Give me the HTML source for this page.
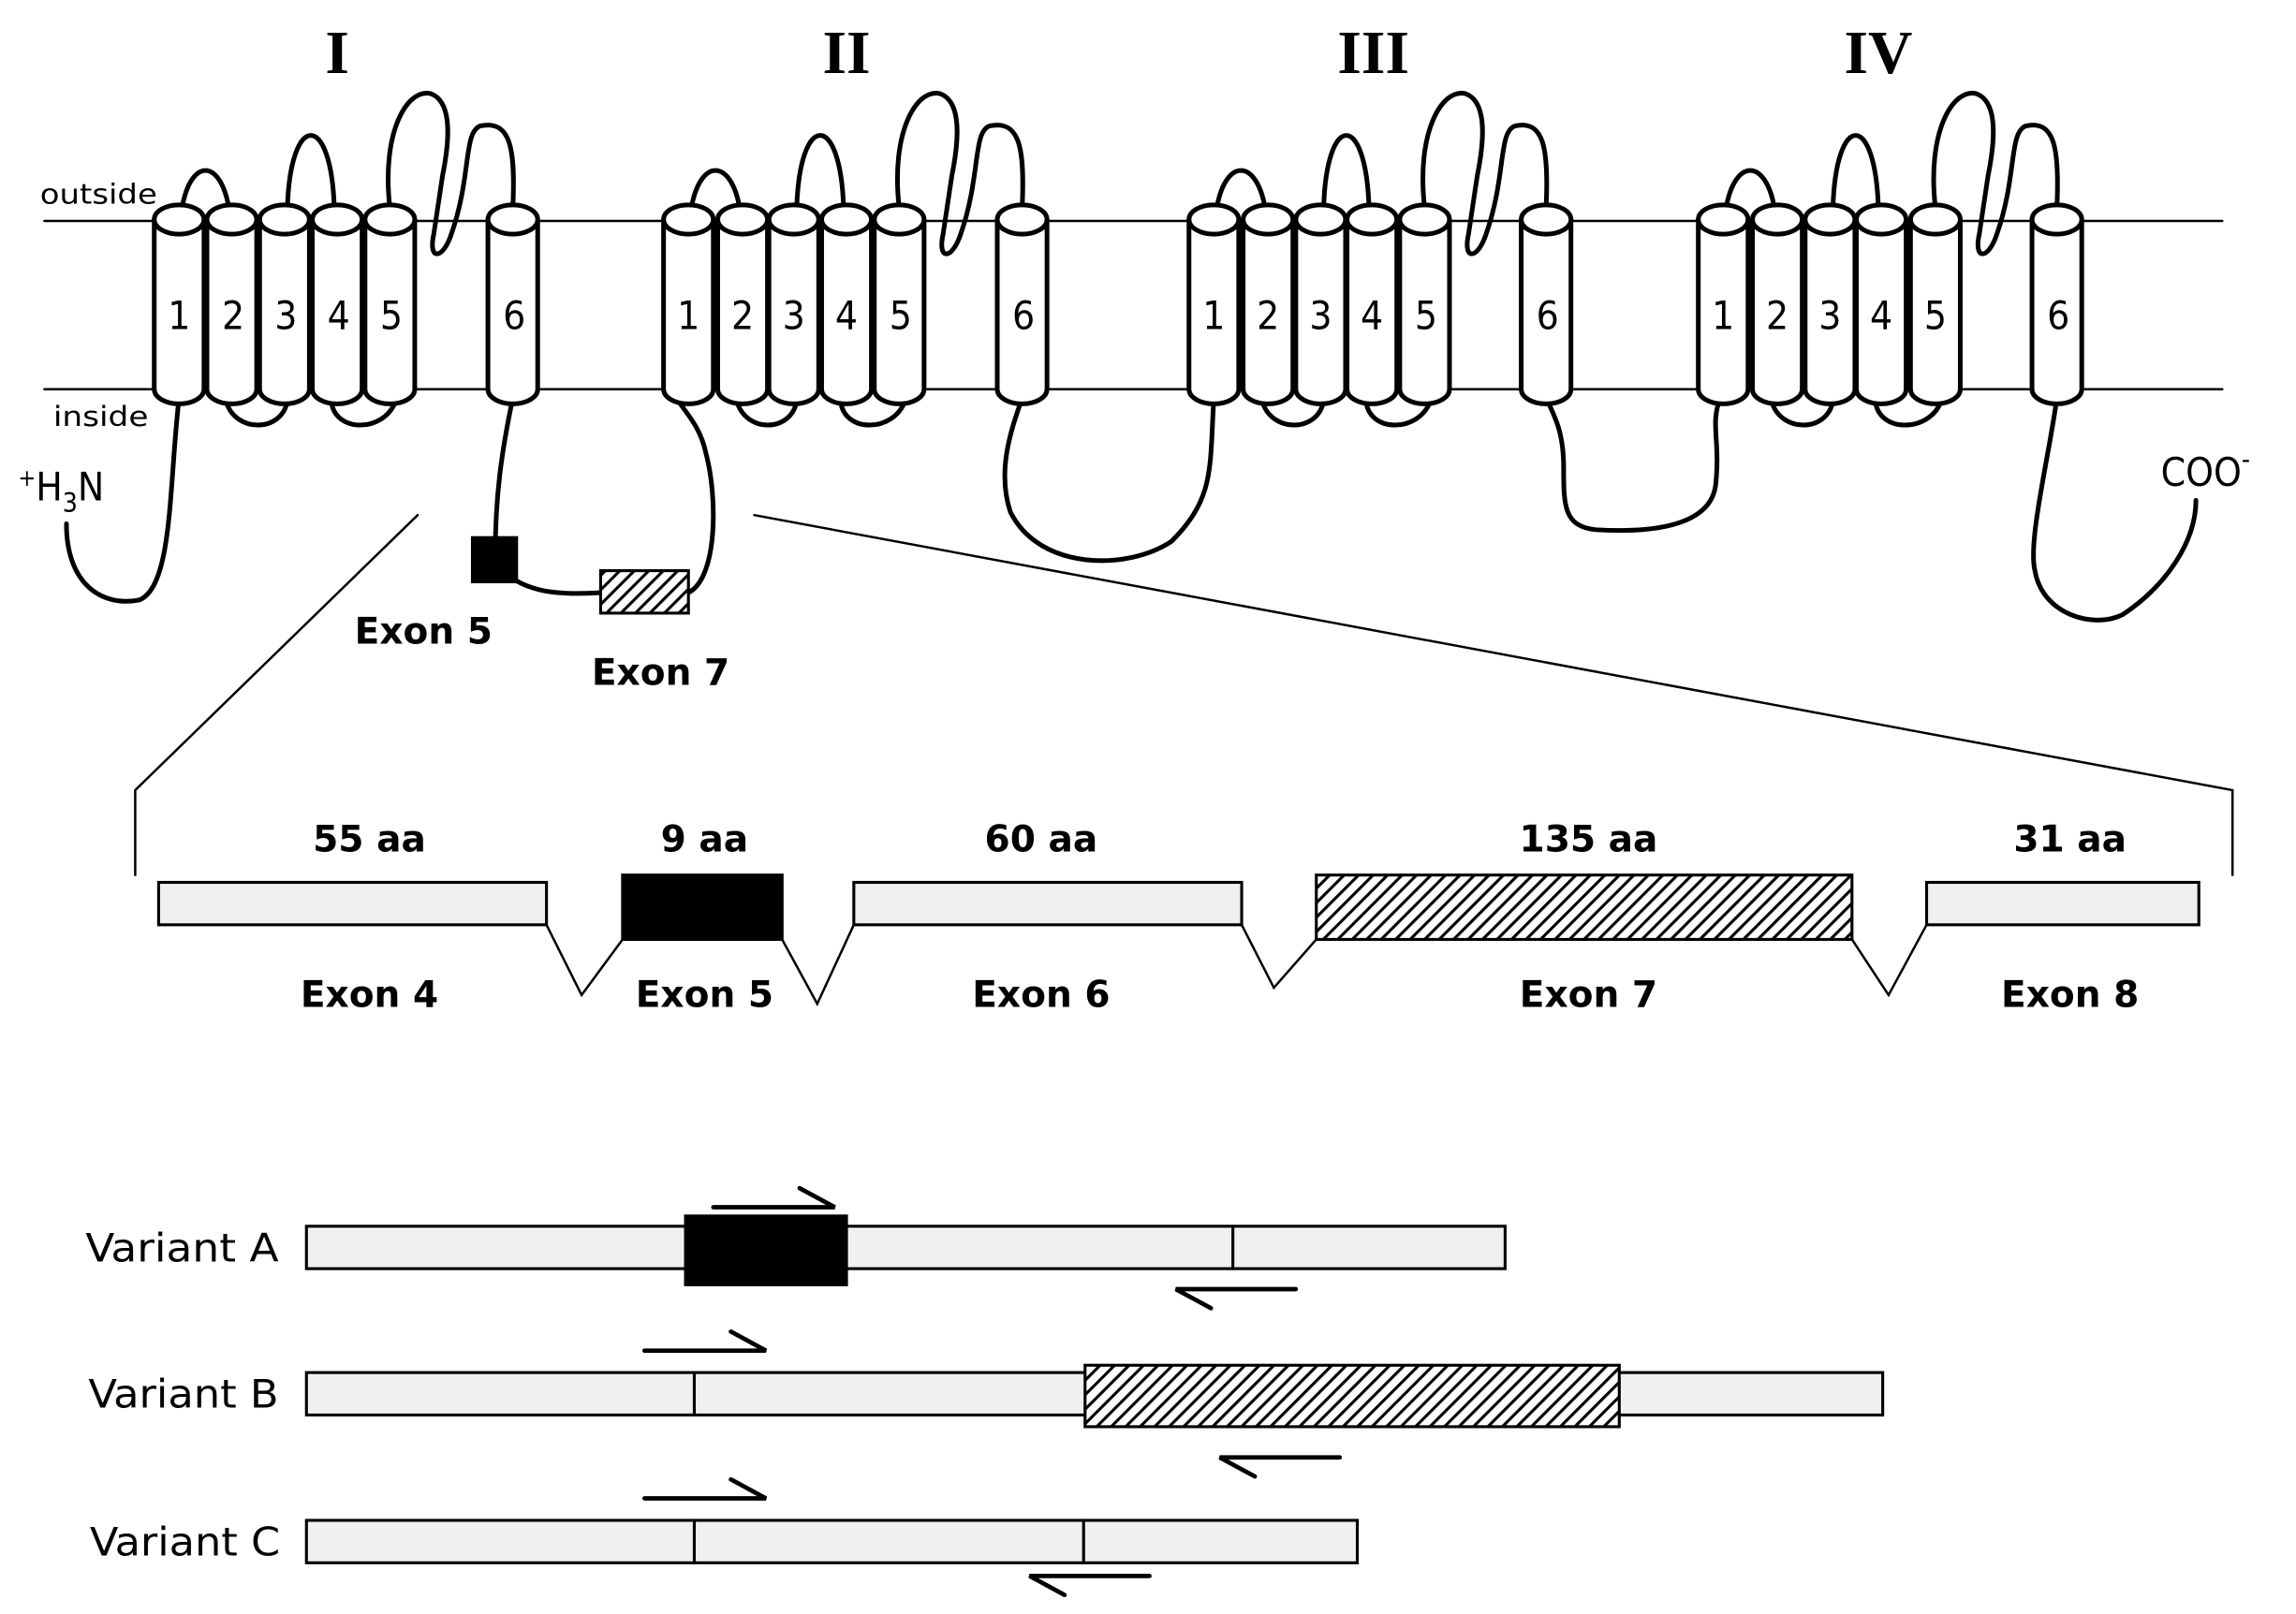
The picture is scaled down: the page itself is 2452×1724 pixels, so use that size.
<!DOCTYPE html>
<html><head><meta charset="utf-8"><style>html,body{margin:0;padding:0;background:#fff}svg{display:block}</style></head>
<body>
<svg id="s" width="2452" height="1724" viewBox="0 0 1568 1103" xmlns="http://www.w3.org/2000/svg">
<defs>
<pattern id="h" patternUnits="userSpaceOnUse" width="7" height="7" patternTransform="rotate(45)">
<rect width="7" height="7" fill="#fff"/><rect x="0" y="0" width="2" height="7" fill="#000"/>
</pattern>
</defs>
<g id="g" fill="none" stroke="#000" stroke-width="3.2" stroke-linecap="round"></g>
<g font-family="Liberation Serif, serif" font-weight="bold" font-size="42" text-anchor="middle">
<text x="230" y="50">I</text><text x="578" y="50">II</text><text x="938" y="50">III</text><text x="1283" y="50">IV</text>
</g>
<g font-family="DejaVu Sans, Liberation Sans, sans-serif" font-size="19">
<text x="27" y="139" textLength="80" lengthAdjust="spacingAndGlyphs">outside</text><text x="36" y="291" textLength="65" lengthAdjust="spacingAndGlyphs">inside</text>
</g>
<g font-family="DejaVu Sans Condensed, DejaVu Sans, Liberation Sans, sans-serif" font-size="27" text-anchor="middle">
<text x="122" y="225">1</text><text x="159" y="225">2</text><text x="195" y="225">3</text><text x="231" y="225">4</text><text x="267" y="225">5</text><text x="351" y="225">6</text>
<text x="470" y="225">1</text><text x="507" y="225">2</text><text x="542" y="225">3</text><text x="578" y="225">4</text><text x="615" y="225">5</text><text x="699" y="225">6</text>
<text x="829" y="225">1</text><text x="866" y="225">2</text><text x="902" y="225">3</text><text x="937" y="225">4</text><text x="974" y="225">5</text><text x="1057" y="225">6</text>
<text x="1177" y="225">1</text><text x="1214" y="225">2</text><text x="1250" y="225">3</text><text x="1285" y="225">4</text><text x="1322" y="225">5</text><text x="1406" y="225">6</text>
</g>
<g font-family="DejaVu Sans Condensed, DejaVu Sans, Liberation Sans, sans-serif" font-size="27">
<text x="12" y="342"><tspan font-size="16" dy="-10">+</tspan><tspan dy="10">H</tspan><tspan font-size="18" dy="8">3</tspan><tspan dy="-8">N</tspan></text>
<text x="1476" y="332">COO<tspan font-size="18" dy="-12">-</tspan></text>
</g>
<g font-family="DejaVu Sans, Liberation Sans, sans-serif" font-weight="bold" font-size="25" text-anchor="middle">
<text x="289" y="440">Exon 5</text><text x="451" y="468">Exon 7</text>
<text x="252" y="582">55 aa</text><text x="481" y="582">9 aa</text><text x="711" y="582">60 aa</text><text x="1085" y="582">135 aa</text><text x="1414" y="582">31 aa</text>
<text x="252" y="688">Exon 4</text><text x="481" y="688">Exon 5</text><text x="711" y="688">Exon 6</text><text x="1085" y="688">Exon 7</text><text x="1414" y="688">Exon 8</text>
</g>
<g font-family="DejaVu Sans Condensed, DejaVu Sans, Liberation Sans, sans-serif" font-size="27">
<text x="58" y="862" textLength="132" lengthAdjust="spacingAndGlyphs">Variant A</text><text x="60" y="962" textLength="130" lengthAdjust="spacingAndGlyphs">Variant B</text><text x="61" y="1063" textLength="130" lengthAdjust="spacingAndGlyphs">Variant C</text>
</g>
</svg>
<script>
var g=document.getElementById('g'),NS='http://www.w3.org/2000/svg';
function el(t,a){var e=document.createElementNS(NS,t);for(var k in a)e.setAttribute(k,a[k]);g.appendChild(e);return e;}
function P(d,w,f){return el('path',{d:d,'stroke-width':w||3.2,fill:f||'none'});}
P('M30 151H1518',1.6);P('M30 266H1518',1.6);
var D=[[122,158,194,230,266,350],[470,507,542,578,614,698],[829,866,902,937,973,1056],[1177,1214,1250,1285,1322,1405]];
D.forEach(function(c){
P('M'+(c[0]+2)+' 142C'+(c[0]+8)+' 108 '+(c[1]-8)+' 108 '+(c[1]-2)+' 142');
P('M'+(c[2]+2)+' 142C'+(c[2]+4)+' 76 '+(c[3]-4)+' 76 '+(c[3]-2)+' 142');
var a=c[4],b=c[5];
P('M'+a+' 142C'+(a-6)+' 90 '+(a+12)+' 60 '+(a+28)+' 64C'+(a+44)+' 70 '+(a+40)+' 100 '+(a+36)+' 120L'+(a+30)+' 160C'+(a+26)+' 178 '+(a+36)+' 178 '+(a+42)+' 160C'+(a+56)+' 120 '+(a+50)+' 90 '+(a+62)+' 86C'+(b-2)+' 82 '+(b+2)+' 100 '+b+' 142');
P('M'+(c[1]-4)+' 274C'+(c[1]+2)+' 296 '+(c[2]-2)+' 296 '+(c[2]+2)+' 274');
P('M'+(c[3]-4)+' 274C'+(c[3]-2)+' 296 '+(c[4]-4)+' 296 '+(c[4]+4)+' 274');
});
P('M45 358C45 400 70 415 95 410C118 400 115 330 122 272');
P('M350 272C342 310 338 340 338 380');
P('M338 385C355 405 380 407 410 405');
P('M470 405C490 395 490 340 482 310C478 290 466 280 462 272');
P('M698 272C692 290 680 320 690 350C710 390 770 390 800 370C830 340 826 320 829 272');
P('M1056 272C1062 285 1068 295 1068 320C1068 345 1068 360 1090 362C1140 365 1170 355 1172 330C1175 300 1168 290 1175 272');
P('M1405 272C1400 310 1385 370 1390 390C1395 420 1430 430 1450 420C1480 400 1500 370 1500 342');
el('rect',{x:323,y:368,width:29,height:29,fill:'#000'});
el('rect',{x:410,y:390,width:60,height:29,fill:'url(#h)','stroke-width':2});
D.forEach(function(c){c.forEach(function(x){
P('M'+(x-17)+' 150V266A17 10 0 0 0 '+(x+17)+' 266V150',3.2,'#fff');
el('ellipse',{cx:x,cy:150,rx:17,ry:10,fill:'#fff'});
});});
P('M285 352L92 540V598',1.6);P('M515 352L1525 540V598',1.6);
function R(x,y,w,h,f,sw){el('rect',{x:x,y:y,width:w,height:h,fill:f,'stroke-width':sw||2});}
R(108,603,265,29,'#f0f0f0');R(425,598,109,44,'#000');R(583,603,265,29,'#f0f0f0');R(899,598,366,44,'url(#h)');R(1316,603,186,29,'#f0f0f0');
P('M373 632L397 680L425 642',1.6);P('M534 642L558 686L583 632',1.6);P('M848 632L870 675L899 642',1.6);P('M1265 642L1290 680L1316 632',1.6);
R(209,838,819,29,'#f0f0f0');R(468,831,110,47,'#000');P('M842 838V867',2);
R(209,938,1077,29,'#f0f0f0');P('M474 938V967',2);R(741,933,365,42,'url(#h)');
R(209,1039,718,29,'#f0f0f0');P('M474 1039V1068',2);P('M740 1039V1068',2);
function F(x1,x2,y){P('M'+x1+' '+y+'H'+x2+'L'+(x2-24)+' '+(y-13),3,'none');}
function Rv(x1,x2,y){P('M'+x1+' '+y+'H'+x2+'L'+(x2+24)+' '+(y+13),3,'none');}
F(487,570,825);Rv(885,803,881);F(440,523,923);Rv(915,833,996);F(440,523,1024);Rv(785,703,1077);
</script>
</body></html>
